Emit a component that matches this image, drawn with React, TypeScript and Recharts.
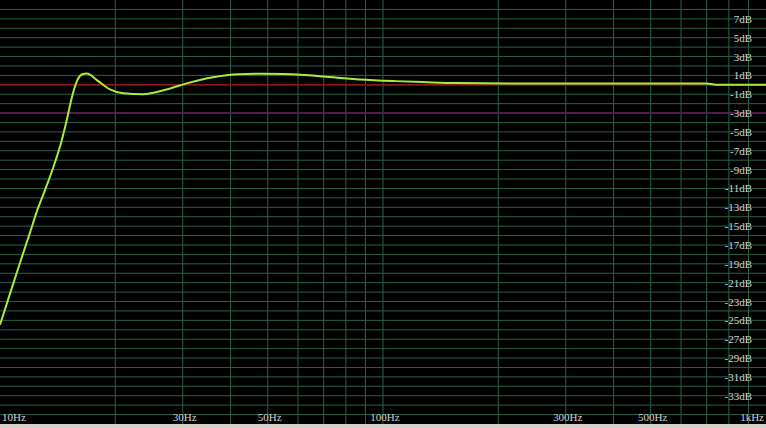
import { LineChart, Line, XAxis, YAxis, CartesianGrid, ReferenceLine } from "recharts";

// frequency response
const freqs = [10, 10.62, 11.28, 11.97, 12.56, 13.1, 13.75, 14.51, 14.95, 15.41, 15.88, 16.46, 16.86, 17.9, 19.36, 21, 23.6, 27.2, 30.7, 36, 42, 48, 55, 61, 71, 87, 108, 127, 155, 214, 400, 700, 740, 900, 1000];
const gains = [-25.46, -22.16, -18.88, -15.71, -13.12, -11.2, -8.86, -5.82, -3.69, -1.31, 0.39, 1.14, 1.19, 0.5, -0.49, -0.9, -1.0, -0.5, 0.15, 0.8, 1.12, 1.17, 1.14, 1.06, 0.85, 0.57, 0.39, 0.29, 0.18, 0.15, 0.15, 0.15, 0.0, 0.0, 0.0];

const freqLabels = [10, 30, 50, 100, 300, 500, 1000];
const freqLabelText = ["10Hz", "30Hz", "50Hz", "100Hz", "300Hz", "500Hz", "1kHz"];
const gridFreqs = [20, 30, 40, 50, 60, 70, 80, 90, 100, 200, 300, 400, 500, 600, 700, 800, 900];
const dbLabels = [7, 5, 3, 1, -1, -3, -5, -7, -9, -11, -13, -15, -17, -19, -21, -23, -25, -27, -29, -31, -33];
const gridDb = Array.from({ length: 44 }, (_, i) => 8 - i);

const data = freqs.map((f, i) => ({ f, db: gains[i] }));

const labelFont = { fontFamily: "'Liberation Serif', serif", fontSize: 11, fill: "#d0d0d0" };

function FreqTick(props: any) {
  const { x, payload } = props;
  const i = freqLabels.indexOf(payload.value);
  const anchor = i === 0 ? "start" : i === freqLabels.length - 1 ? "end" : "middle";
  const dx = i === 0 ? 2 : i === freqLabels.length - 1 ? -2 : 2;
  return (
    <text x={x + dx} y={421} textAnchor={anchor} {...labelFont}>
      {freqLabelText[i]}
    </text>
  );
}

function DbTick(props: any) {
  const { y, payload } = props;
  const v = payload.value;
  return (
    <text x={752} y={y + 4} textAnchor="end" {...labelFont}>
      {v < 0 ? `-${-v}dB` : `${v}dB`}
    </text>
  );
}

export default function App() {
  return (
    <div style={{ position: "absolute", left: 0, top: 0, width: 766, height: 428, background: "#d4d0c8" }}>
      <LineChart
        width={766}
        height={424}
        data={data}
        margin={{ top: 0, right: 0, bottom: 0, left: 0 }}
        style={{ background: "#000" }}
      >
        <CartesianGrid
          stroke="#2b6144"
          strokeWidth={1}
          horizontalValues={gridDb}
          verticalValues={gridFreqs}
        />
        <XAxis
          dataKey="f"
          type="number"
          scale="log"
          domain={[10, 1000]}
          ticks={freqLabels}
          tick={<FreqTick />}
          axisLine={false}
          tickLine={false}
          interval={0}
          mirror
          allowDataOverflow
        />
        <YAxis
          type="number"
          orientation="right"
          domain={[-36, 9]}
          ticks={dbLabels}
          tick={<DbTick />}
          axisLine={false}
          tickLine={false}
          mirror
          interval={0}
          allowDataOverflow
        />
        <ReferenceLine y={0} stroke="#8a1818" strokeWidth={1.5} />
        <ReferenceLine y={-3} stroke="#5e1a5e" strokeWidth={1.5} />
        <Line
          type="monotone"
          dataKey="db"
          stroke="#a6ee3a"
          strokeWidth={2}
          dot={false}
          activeDot={false}
          isAnimationActive={false}
        />
      </LineChart>
    </div>
  );
}
